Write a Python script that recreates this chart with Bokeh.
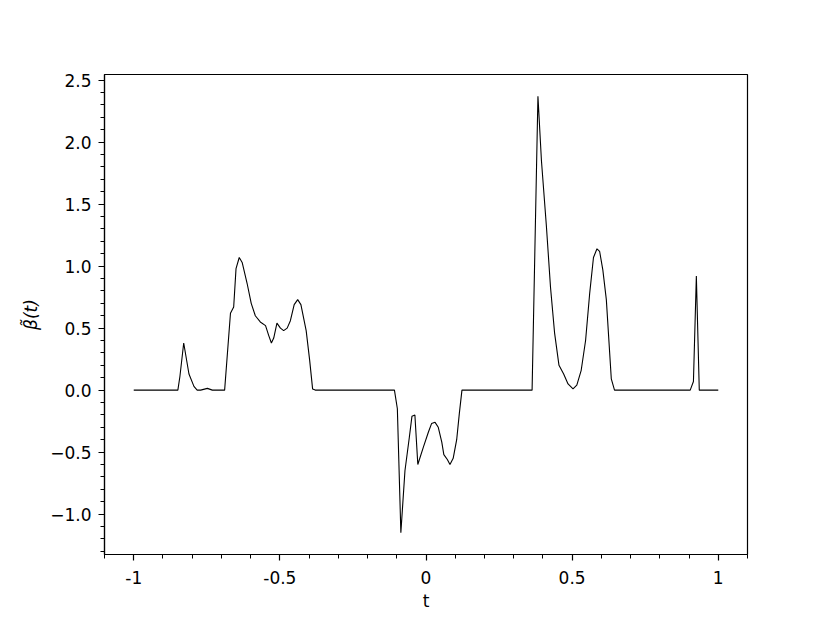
from bokeh.plotting import figure
from bokeh.models import Range1d, FixedTicker, CustomJSTickFormatter
from bokeh.embed import file_html
from bokeh.resources import INLINE

t = [-1.0, -0.849, -0.842, -0.829, -0.811, -0.794, -0.783, -0.771, -0.748, -0.731,
     -0.689, -0.669, -0.658, -0.650, -0.639, -0.629, -0.612, -0.598, -0.584, -0.567,
     -0.549, -0.538, -0.529, -0.521, -0.510, -0.498, -0.487, -0.475, -0.464, -0.451,
     -0.439, -0.428, -0.410, -0.398, -0.388, -0.379, -0.108, -0.098, -0.086, -0.072,
     -0.057, -0.048, -0.038, -0.028, -0.009, 0.008, 0.019, 0.031, 0.042, 0.054,
     0.061, 0.073, 0.082, 0.093, 0.105, 0.114, 0.123, 0.363, 0.383, 0.395,
     0.412, 0.426, 0.440, 0.455, 0.471, 0.486, 0.503, 0.516, 0.531, 0.546,
     0.560, 0.573, 0.585, 0.594, 0.605, 0.617, 0.634, 0.645, 0.904, 0.915,
     0.925, 0.935, 1.0]
beta = [0, 0, 0.11, 0.38, 0.13, 0.03, 0.0, 0.0, 0.014, 0,
        0, 0.62, 0.67, 0.98, 1.07, 1.03, 0.86, 0.70, 0.60, 0.55,
        0.52, 0.44, 0.38, 0.42, 0.54, 0.50, 0.48, 0.50, 0.56, 0.69,
        0.73, 0.69, 0.48, 0.24, 0.01, 0, 0, -0.15, -1.15, -0.65,
        -0.38, -0.21, -0.20, -0.60, -0.46, -0.34, -0.27, -0.26, -0.30, -0.42,
        -0.52, -0.56, -0.60, -0.55, -0.40, -0.19, 0, 0, 2.37, 1.85,
        1.32, 0.83, 0.46, 0.20, 0.13, 0.05, 0.01, 0.04, 0.16, 0.40,
        0.78, 1.07, 1.14, 1.12, 0.97, 0.73, 0.09, 0, 0, 0.07,
        0.92, 0, 0]

x_ticks = [-1.0, -0.5, 0.0, 0.5, 1.0]
x_minor = [-1.1, -1.0, -0.9, -0.8, -0.7, -0.6, -0.5, -0.4, -0.3, -0.2, -0.1, 0.0,
           0.1, 0.2, 0.3, 0.4, 0.5, 0.6, 0.7, 0.8, 0.9, 1.0, 1.1]
y_ticks = [-1.0, -0.5, 0.0, 0.5, 1.0, 1.5, 2.0, 2.5]
y_minor = [-1.3, -1.2, -1.1, -1.0, -0.9, -0.8, -0.7, -0.6, -0.5, -0.4, -0.3, -0.2, -0.1,
           0.0, 0.1, 0.2, 0.3, 0.4, 0.5, 0.6, 0.7, 0.8, 0.9, 1.0, 1.1, 1.2, 1.3, 1.4,
           1.5, 1.6, 1.7, 1.8, 1.9, 2.0, 2.1, 2.2, 2.3, 2.4, 2.5]

W, H = 815, 614
p = figure(width=W, height=H, output_backend="svg", toolbar_location=None,
           x_range=Range1d(-1.1, 1.1), y_range=Range1d(-1.326, 2.546),
           min_border_left=104, min_border_right=68, min_border_top=74,
           min_border_bottom=60)
p.background_fill_color = "white"
p.border_fill_color = "white"
p.outline_line_color = "black"
p.outline_line_width = 1.2
p.grid.visible = False

p.line(t, beta, line_color="black", line_width=1.1)

FONT = "DejaVu Sans"
p.xaxis.ticker = FixedTicker(ticks=x_ticks, minor_ticks=x_minor)
p.yaxis.ticker = FixedTicker(ticks=y_ticks, minor_ticks=y_minor)
p.xaxis.formatter = CustomJSTickFormatter(code="return String(Math.round(tick*10)/10);")
p.yaxis.formatter = CustomJSTickFormatter(code="return tick.toFixed(1).replace('-', '\\u2212');")

for ax in (p.xaxis, p.yaxis):
    ax.axis_line_color = "black"
    ax.axis_line_width = 1.2
    ax.major_tick_line_color = "black"
    ax.major_tick_line_width = 1.2
    ax.minor_tick_line_color = "black"
    ax.minor_tick_line_width = 1.0
    ax.major_tick_out = 6
    ax.major_tick_in = 0
    ax.minor_tick_out = 4
    ax.minor_tick_in = 0
    ax.major_label_text_font = FONT
    ax.major_label_text_font_size = "17px"
    ax.major_label_text_color = "black"
    ax.axis_label_text_font = FONT
    ax.axis_label_text_font_size = "17px"
    ax.axis_label_text_color = "black"
    ax.axis_label_text_font_style = "normal"

p.xaxis.major_label_standoff = 10
p.yaxis.major_label_standoff = 7
p.xaxis.axis_label = "t"
p.xaxis.axis_label_standoff = 4
p.yaxis.axis_label = "\u03b2\u0303(t)"
p.yaxis.axis_label_text_font_style = "italic"
p.yaxis.axis_label_standoff = 6

open("out.html", "w").write(file_html(p, INLINE))
